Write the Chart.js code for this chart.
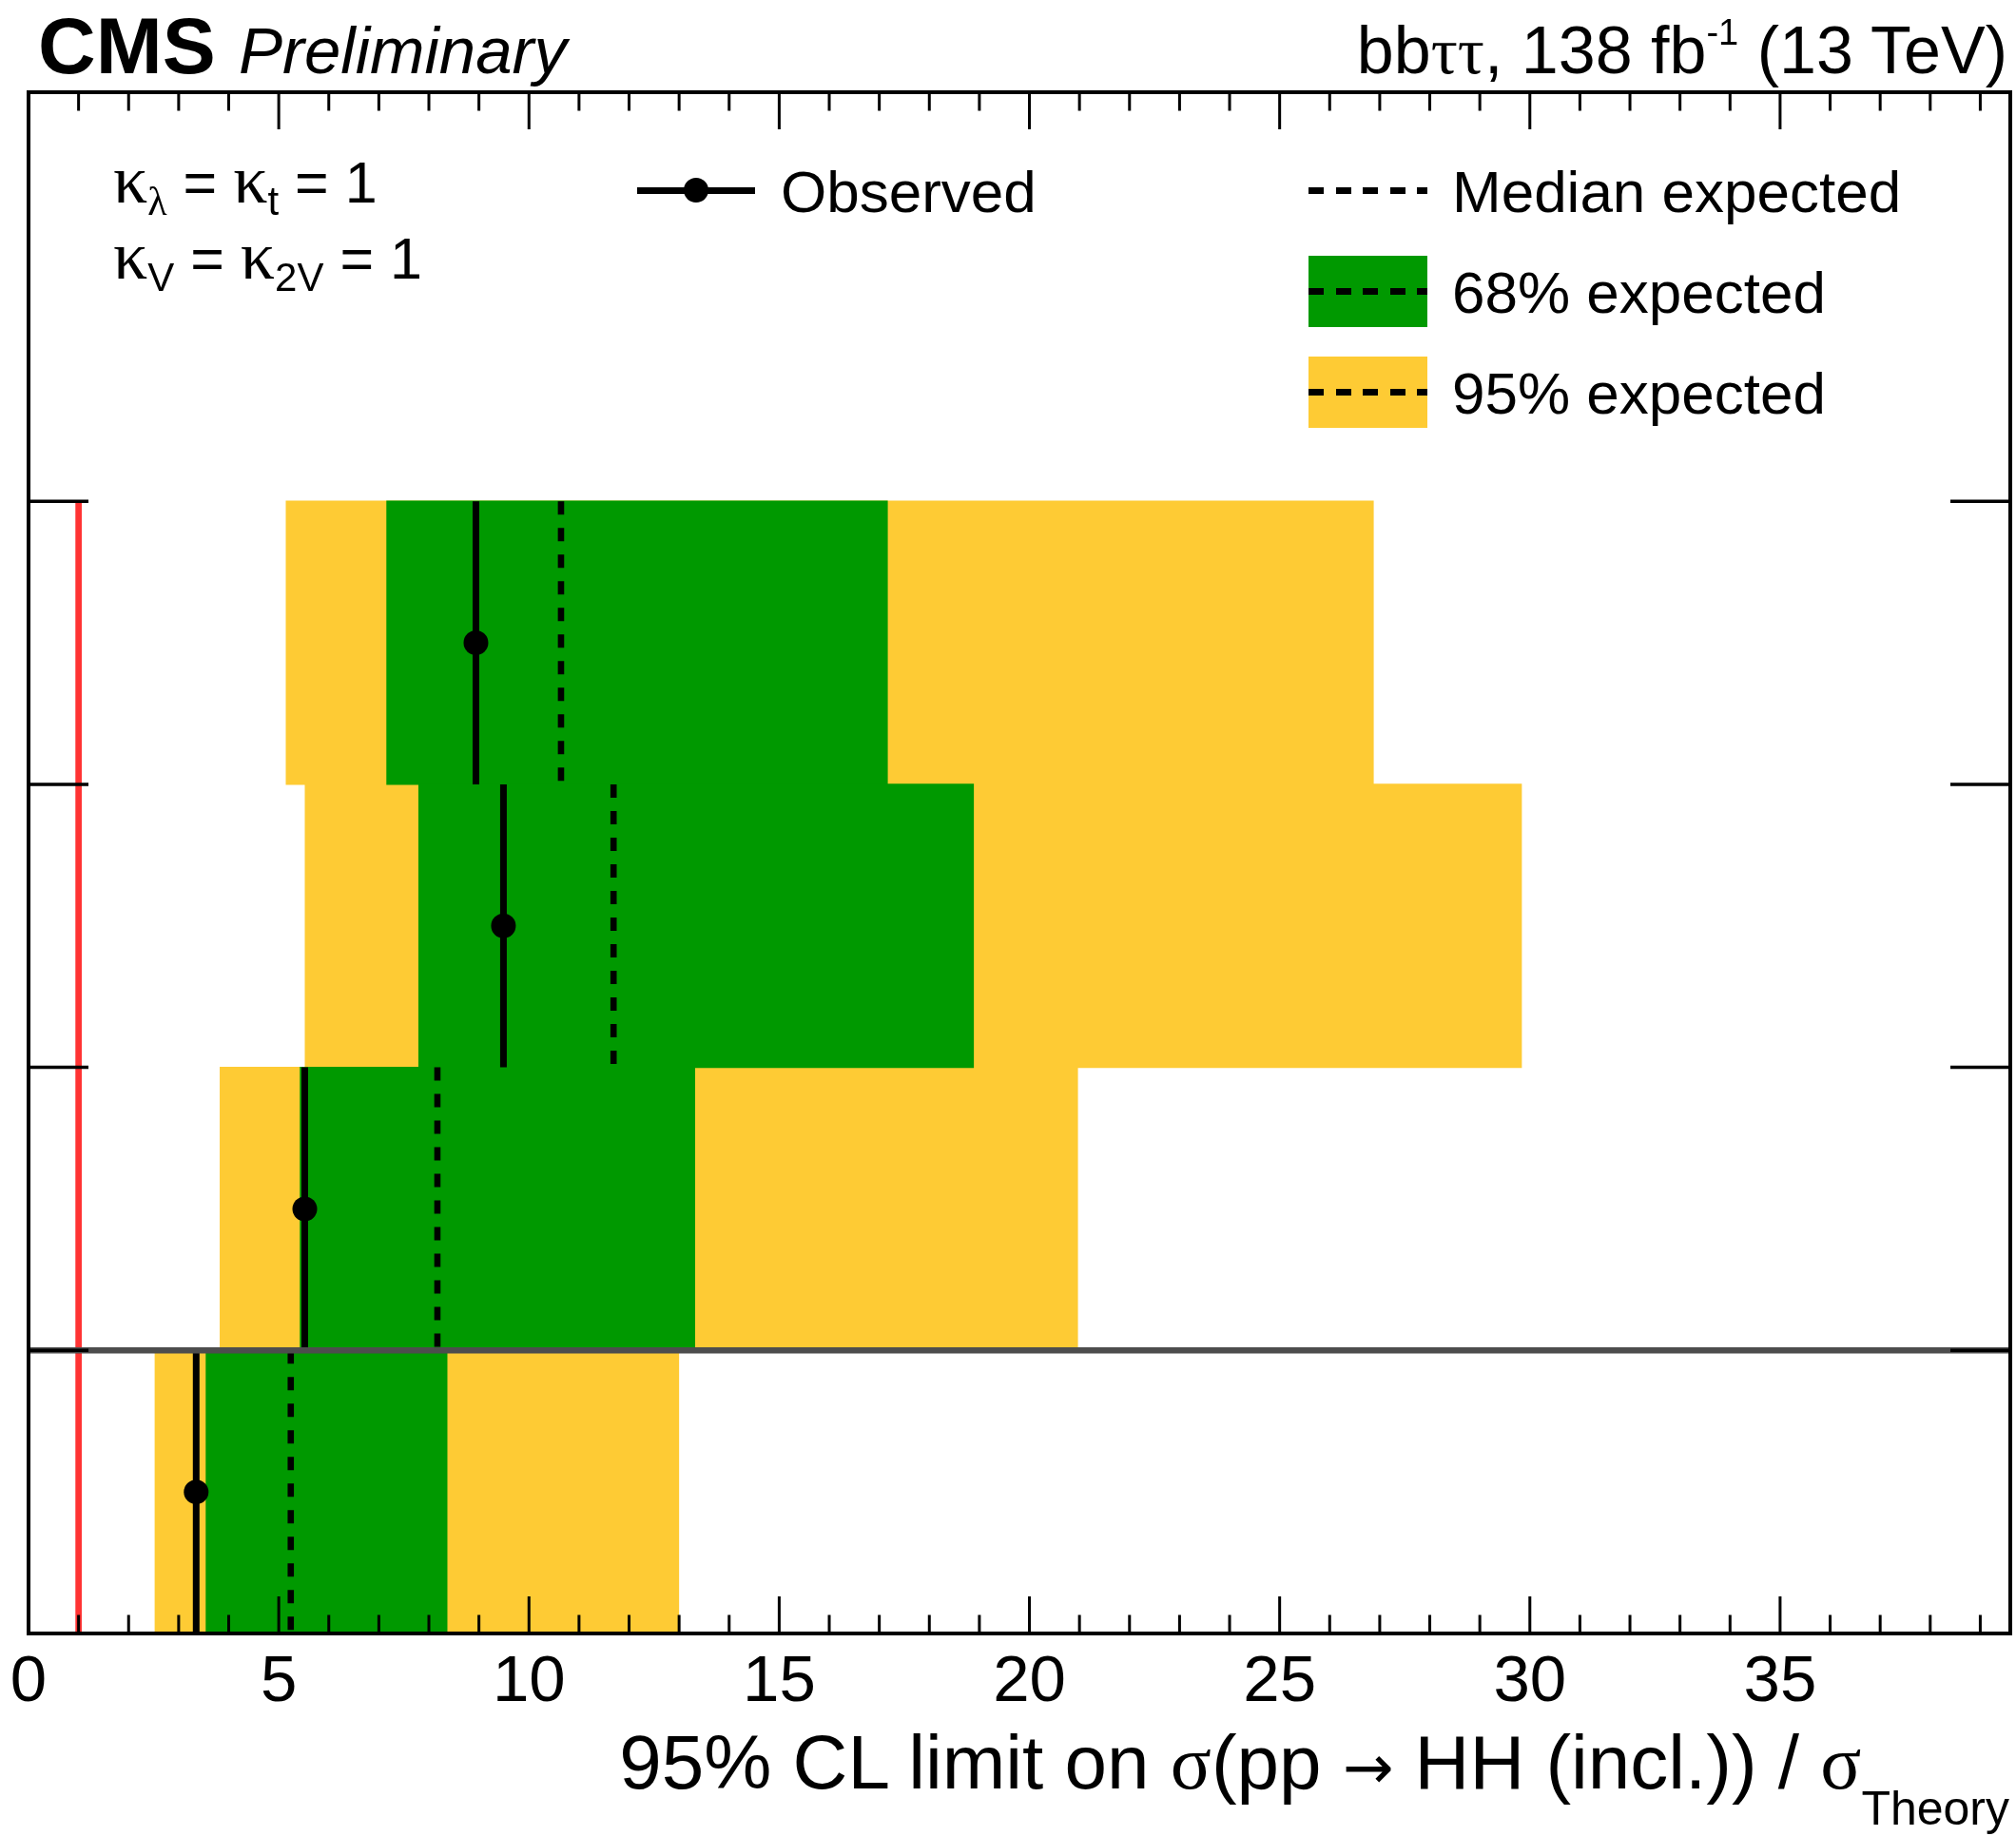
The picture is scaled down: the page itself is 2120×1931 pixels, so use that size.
<!DOCTYPE html>
<html>
<head>
<meta charset="utf-8">
<script src="https://cdn.jsdelivr.net/npm/chart.js@4.4.1/dist/chart.umd.min.js"></script>
<style>
  html, body { margin: 0; padding: 0; background: #fff; overflow: hidden; }
  #wrap { position: relative; width: 2120px; height: 1931px; background: #fff; }
  #c { position: absolute; left: 0; top: 0; }
  .t { position: absolute; white-space: nowrap; font-family: "Liberation Sans", Arial, Helvetica, sans-serif; color: #000; }
  .g { font-family: "Liberation Serif", "Times New Roman", serif; }
  .ar { font-family: "DejaVu Sans", sans-serif; font-size: 0.8em; }
  .sw { position: absolute; }
  .dash { position: absolute; height: 7px; background: repeating-linear-gradient(90deg, #000 0 16px, transparent 16px 28.6px); }
</style>
</head>
<body>
<div id="wrap">
  <canvas id="c" width="2120" height="1931"></canvas>

  <!-- header -->
  <div class="t" style="left:40px; top:6px; font-size:84px; line-height:84px; font-weight:bold;">CMS</div>
  <div class="t" style="left:251px; top:18.5px; font-size:69px; line-height:69px; font-style:italic;">Preliminary</div>
  <div class="t" style="right:9px; top:17.5px; font-size:70px; line-height:70px;">bb<span class="g">ττ</span>, 138 fb<span style="font-size:38px; position:relative; top:-30px;">-1</span> (13 TeV)</div>

  <!-- kappa text -->
  <div class="t" style="left:119px; top:159px; font-size:61px; line-height:61px;"><span class="g" style="font-size:72px;">κ</span><span class="g" style="font-size:42px; position:relative; top:13px;">λ</span> = <span class="g" style="font-size:72px;">κ</span><span style="font-size:42px; position:relative; top:13px;">t</span> = 1</div>
  <div class="t" style="left:119px; top:239px; font-size:61px; line-height:61px;"><span class="g" style="font-size:72px;">κ</span><span style="font-size:42px; position:relative; top:13px;">V</span> = <span class="g" style="font-size:72px;">κ</span><span style="font-size:42px; position:relative; top:13px;">2V</span> = 1</div>

  <!-- legend -->
  <div class="sw" style="left:670px; top:196.5px; width:124px; height:7px; background:#000;"></div>
  <div class="sw" style="left:719px; top:187px; width:26px; height:26px; border-radius:50%; background:#000;"></div>
  <div class="t" style="left:821px; top:171px; font-size:62px; line-height:62px;">Observed</div>

  <div class="dash" style="left:1376px; top:196.5px; width:125px;"></div>
  <div class="t" style="left:1527px; top:170.5px; font-size:62px; line-height:62px;">Median expected</div>

  <div class="sw" style="left:1376px; top:269px; width:125px; height:75px; background:rgb(0,153,0);"></div>
  <div class="dash" style="left:1376px; top:303px; width:125px;"></div>
  <div class="t" style="left:1527px; top:276.5px; font-size:62px; line-height:62px;">68% expected</div>

  <div class="sw" style="left:1376px; top:375px; width:125px; height:75px; background:rgb(254,203,52);"></div>
  <div class="dash" style="left:1376px; top:409px; width:125px;"></div>
  <div class="t" style="left:1527px; top:382.5px; font-size:62px; line-height:62px;">95% expected</div>

  <!-- x axis title -->
  <div class="t" style="right:7px; top:1814px; font-size:80px; line-height:80px;">95% CL limit on <span class="g">σ</span>(pp <span class="ar">→</span> HH (incl.)) / <span class="g">σ</span><span style="font-size:50px; position:relative; top:38px;">Theory</span></div>
</div>

<script>
// ---------------- data (rows listed top to bottom) ----------------
const rows        = ["Row 1", "Row 2", "Row 3", "Combined"];
const observed    = [8.94, 9.49, 5.52, 3.35];
const expected    = [10.64, 11.69, 8.17, 5.24];
const band68Low   = [7.15, 7.79, 5.42, 3.54];
const band68High  = [17.17, 18.89, 13.32, 8.37];
const band95Low   = [5.14, 5.52, 3.82, 2.52];
const band95High  = [26.88, 29.84, 20.97, 13.00];
const theoryRef   = 1;           // SM reference line
const xMin = 0, xMax = 39.6;
const yMax = 5.445;              // rows occupy 0..4, the rest is legend space
const xTickValues = Array.from({length: 40}, (_, i) => i);
const xTickLabels = [0, 5, 10, 15, 20, 25, 30, 35];
const rowEdges    = [0, 1, 2, 3, 4];
const separatorAt = 1;           // line separating the combined row

// ---------------- derived structures ----------------
const nRows = rows.length;
const rowTop = i => nRows - i;
const rowBottom = i => nRows - 1 - i;
const rowCenter = i => nRows - 0.5 - i;

const band95 = rows.map((r, i) => ({ x: [band95Low[i], band95High[i]], y: rowCenter(i) }));
const band68 = rows.map((r, i) => ({ x: [band68Low[i], band68High[i]], y: rowCenter(i) }));
const segs = vals => rows.flatMap((r, i) => [
  { x: vals[i], y: rowTop(i) }, { x: vals[i], y: rowBottom(i) }, { x: vals[i], y: null }
]);
const obsPoints = rows.map((r, i) => ({ x: observed[i], y: rowCenter(i) }));

const frameAndTicks = {
  id: 'frameAndTicks',
  afterDatasetsDraw(chart) {
    const { ctx, chartArea: a, scales: { x, y } } = chart;
    ctx.save();
    ctx.strokeStyle = '#000';
    ctx.lineWidth = 3;
    x.ticks.forEach(t => {
      const px = x.getPixelForValue(t.value);
      const len = xTickLabels.includes(t.value) ? 39 : 19.5;
      ctx.beginPath();
      ctx.moveTo(px, a.bottom); ctx.lineTo(px, a.bottom - len);
      ctx.moveTo(px, a.top); ctx.lineTo(px, a.top + len);
      ctx.stroke();
    });
    ctx.lineWidth = 3.5;
    y.ticks.forEach(t => {
      if (t.value <= 0) return;
      const py = y.getPixelForValue(t.value);
      ctx.beginPath();
      ctx.moveTo(a.left, py); ctx.lineTo(a.left + 63, py);
      ctx.moveTo(a.right, py); ctx.lineTo(a.right - 63, py);
      ctx.stroke();
    });
    ctx.lineWidth = 4;
    ctx.strokeRect(a.left, a.top, a.right - a.left, a.bottom - a.top);
    ctx.restore();
  }
};

const barCommon = { type: 'bar', indexAxis: 'y', grouped: false, barPercentage: 1.004, categoryPercentage: 1, borderWidth: 0 };
const lineCommon = { type: 'line', pointRadius: 0, spanGaps: false, fill: false, tension: 0 };

new Chart(document.getElementById('c'), {
  type: 'scatter',
  data: {
    datasets: [
      { ...barCommon, label: '95% expected', data: band95, backgroundColor: 'rgb(254,203,52)', order: 10 },
      { ...barCommon, label: '68% expected', data: band68, backgroundColor: 'rgb(0,153,0)', order: 9 },
      { ...lineCommon, label: 'Theory', data: [{ x: theoryRef, y: 0 }, { x: theoryRef, y: nRows }], borderColor: 'rgb(255,51,51)', borderWidth: 6.7, order: 8 },
      { ...lineCommon, label: 'Median expected', data: segs(expected), borderColor: '#000', borderWidth: 6.6, borderDash: [14, 14], order: 7 },
      { ...lineCommon, label: 'Observed line', data: segs(observed), borderColor: '#000', borderWidth: 7, order: 6 },
      { type: 'scatter', label: 'Observed', data: obsPoints, pointRadius: 13, pointHoverRadius: 13, backgroundColor: '#000', borderWidth: 0, order: 5 },
      { ...lineCommon, label: 'Separator', data: [{ x: xMin, y: separatorAt }, { x: xMax, y: separatorAt }], borderColor: '#4d4d4d', borderWidth: 6.5, order: 4 }
    ]
  },
  options: {
    responsive: false,
    animation: false,
    devicePixelRatio: 1,
    layout: { autoPadding: false, padding: { left: 30, right: 6, top: 97, bottom: 0 } },
    plugins: { legend: { display: false }, tooltip: { enabled: false } },
    scales: {
      x: {
        type: 'linear', position: 'bottom', min: xMin, max: xMax, offset: false,
        grid: { display: false, drawTicks: false }, border: { display: false },
        afterBuildTicks: s => { s.ticks = xTickValues.map(v => ({ value: v })); },
        afterFit: s => { s.height = 213; s.paddingLeft = 0; s.paddingRight = 0; },
        ticks: {
          autoSkip: false, maxRotation: 0, padding: 11, color: '#000',
          font: { family: 'Liberation Sans', size: 69, lineHeight: 1.2 },
          callback: v => xTickLabels.includes(v) ? String(v) : ''
        }
      },
      y: {
        type: 'linear', display: false, min: 0, max: yMax, offset: false,
        afterBuildTicks: s => { s.ticks = rowEdges.map(v => ({ value: v })); },
        grid: { display: false }
      }
    }
  },
  plugins: [frameAndTicks]
});
</script>
</body>
</html>
